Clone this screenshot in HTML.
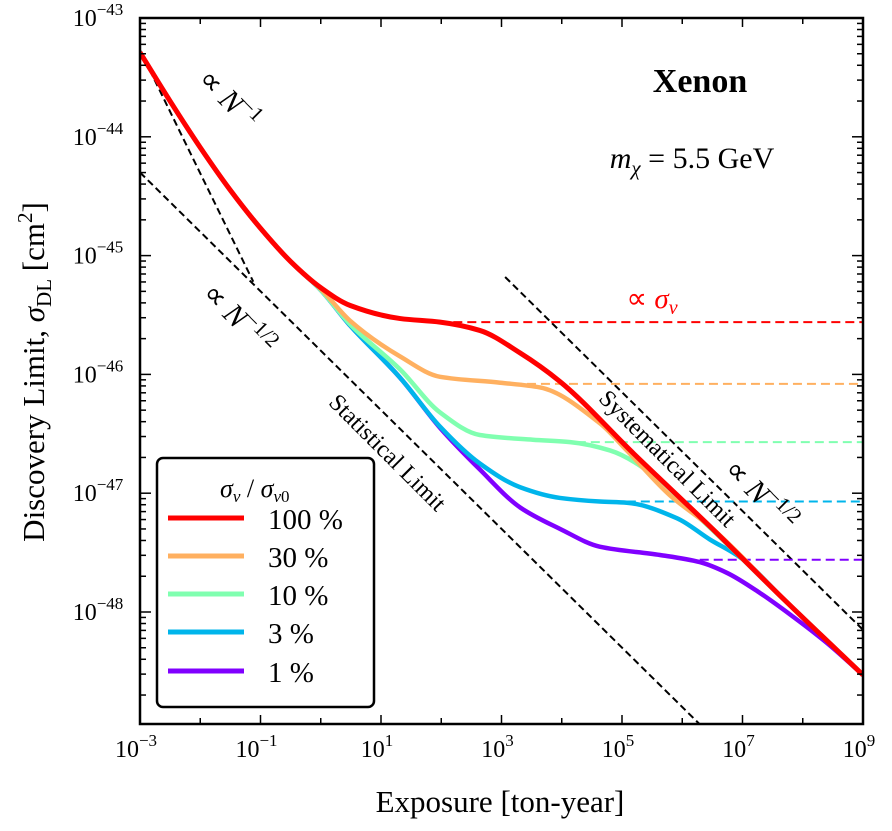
<!DOCTYPE html>
<html><head><meta charset="utf-8">
<style>
html,body{margin:0;padding:0;background:#fff;width:892px;height:831px;overflow:hidden;position:relative;}
svg{display:block;font-family:"Liberation Serif",serif;}
</style></head>
<body>
<svg id="chart" width="892" height="831" viewBox="0 0 892 831" xmlns="http://www.w3.org/2000/svg" style="position:absolute;left:0;top:0"></svg>
<script>
// ---- data (log10 exposure [ton-year], log10 sigma [cm^2]) ----
const xTickExps = [-3,-1,1,3,5,7,9];
const yTickExps = [-43,-44,-45,-46,-47,-48];
const seriesNames = ["100 %","30 %","10 %","3 %","1 %"];
const seriesColors = ["#ff0000","#ffb060","#80ffb0","#00b5eb","#8000ff"];
const redN = [-3,-2.5,-2,-1.5,-1,-0.5,0,0.49,1.32,1.98,2.64,3.31,3.97,5.2,6.46,7.7,9];
const redS = [-43.29,-43.70,-44.09,-44.45,-44.77,-45.05,-45.27,-45.42,-45.53,-45.56,-45.63,-45.82,-46.06,-46.67,-47.28,-47.90,-48.53];
const orangeN = [-3,-2.5,-2,-1.5,-1,-0.5,0,0.49,1.32,1.98,2.98,3.64,4.63,5.08,5.8,6.46,7.7,9];
const orangeS = [-43.29,-43.70,-44.09,-44.45,-44.77,-45.05,-45.28,-45.55,-45.85,-46.02,-46.07,-46.11,-46.41,-46.64,-47.02,-47.28,-47.90,-48.53];
const greenN = [-3,-2.5,-2,-1.5,-1,-0.5,0,0.49,1.32,1.98,2.64,3.52,4.14,4.80,5.63,6.08,6.46,7.7,9];
const greenS = [-43.29,-43.70,-44.09,-44.45,-44.77,-45.05,-45.29,-45.58,-45.96,-46.32,-46.51,-46.55,-46.57,-46.64,-46.89,-47.11,-47.29,-47.90,-48.53];
const blueN = [-3,-2.5,-2,-1.5,-1,-0.5,0,0.49,1.32,1.98,2.64,3.31,3.97,4.63,5.08,5.91,6.46,6.96,7.7,9];
const blueS = [-43.29,-43.70,-44.09,-44.45,-44.77,-45.05,-45.29,-45.59,-46.03,-46.44,-46.75,-46.95,-47.04,-47.07,-47.08,-47.21,-47.39,-47.54,-47.90,-48.53];
const purpleN = [-3,-2.5,-2,-1.5,-1,-0.5,0,0.49,1.32,1.98,2.64,3.31,3.97,4.63,5.63,6.29,6.74,7.29,7.84,8.4,9];
const purpleS = [-43.29,-43.70,-44.09,-44.45,-44.77,-45.05,-45.29,-45.59,-46.03,-46.45,-46.80,-47.12,-47.30,-47.45,-47.52,-47.58,-47.67,-47.84,-48.04,-48.26,-48.53];
const floorStartN = [2.20,3.19,4.25,5.08,6.29];
const floorLevelS = [-45.56,-46.08,-46.57,-47.07,-47.56];
const statLine = {n0:-3, s0:-44.30, slope:-0.5};
const sysLine = {n0:3.06, s0:-45.18, n1:9, s1:-48.15};
const invLine = {n0:-3, s0:-43.27, n1:-1.12, s1:-45.22};

// ---- axes ----
const L=140,R=863,T=18,B=724;
const xMin=-3,xMax=9,yMax=-43,yDec=118.8;
const X = n => L + (n-xMin)/(xMax-xMin)*(R-L);
const Y = s => T + (yMax-s)*yDec;
const yMinS = yMax-(B-T)/yDec;
const NS="http://www.w3.org/2000/svg";
const svg=document.getElementById('chart');
function mk(tag,attrs,parent){const e=document.createElementNS(NS,tag);for(const k in attrs)e.setAttribute(k,attrs[k]);(parent||svg).appendChild(e);return e;}

const defs=mk('defs',{});
const cp=mk('clipPath',{id:'clip'},defs);
mk('rect',{x:L,y:T,width:R-L,height:B-T},cp);
const plot=mk('g',{'clip-path':'url(#clip)'});



// monotone cubic (Fritsch-Carlson) path in pixel space
function smoothPath(ns,ss){
  const x=ns.map(X), y=ss.map(Y), n=x.length;
  const d=[], m=new Array(n);
  for(let i=0;i<n-1;i++) d.push((y[i+1]-y[i])/(x[i+1]-x[i]));
  m[0]=d[0]; m[n-1]=d[n-2];
  for(let i=1;i<n-1;i++){
    if(d[i-1]*d[i]<=0) m[i]=0;
    else { const h0=x[i]-x[i-1], h1=x[i+1]-x[i];
      const w1=2*h1+h0, w2=h1+2*h0;
      m[i]=(w1+w2)/(w1/d[i-1]+w2/d[i]); }
  }
  let p='M'+x[0].toFixed(2)+','+y[0].toFixed(2);
  for(let i=0;i<n-1;i++){
    const h=x[i+1]-x[i];
    p+=' C'+(x[i]+h/3).toFixed(2)+','+(y[i]+m[i]*h/3).toFixed(2)+' '+(x[i+1]-h/3).toFixed(2)+','+(y[i+1]-m[i+1]*h/3).toFixed(2)+' '+x[i+1].toFixed(2)+','+y[i+1].toFixed(2);
  }
  return p;
}

const stat=mk('line',{x1:X(statLine.n0),y1:Y(statLine.s0),x2:X(xMax),y2:Y(statLine.s0+statLine.slope*(xMax-statLine.n0)),stroke:'#000','stroke-width':2,'stroke-dasharray':'7,4'},plot);


const sys=mk('line',{x1:X(sysLine.n0),y1:Y(sysLine.s0),x2:X(sysLine.n1),y2:Y(sysLine.s1),stroke:'#000','stroke-width':2,'stroke-dasharray':'7,4'},plot);


const inv=mk('line',{x1:X(invLine.n0),y1:Y(invLine.s0),x2:X(invLine.n1),y2:Y(invLine.s1),stroke:'#000','stroke-width':2,'stroke-dasharray':'7,4'},plot);



for(let i=0;i<5;i++){
  const f=mk('line',{x1:X(floorStartN[i]),y1:Y(floorLevelS[i]),x2:X(xMax),y2:Y(floorLevelS[i]),stroke:seriesColors[i],'stroke-width':2,'stroke-dasharray':'9,5'},plot);
  
  
}
const curves=[[purpleN,purpleS],[blueN,blueS],[greenN,greenS],[orangeN,orangeS],[redN,redS]];
const curveIdx=[4,3,2,1,0];
for(let k=0;k<5;k++){
  const i=curveIdx[k];
  const c=mk('path',{d:smoothPath(curves[k][0],curves[k][1]),fill:'none',stroke:seriesColors[i],'stroke-width':i===0?5:4.5,'stroke-linejoin':'round'},plot);
  
  
}

const ticks=mk('g',{stroke:'#000','stroke-width':1.5});


for(let n=xMin;n<=xMax;n++){
  const len=(n%2!==0)?9:6;
  mk('line',{x1:X(n),y1:B,x2:X(n),y2:B-len},ticks);
  mk('line',{x1:X(n),y1:T,x2:X(n),y2:T+len},ticks);
}
for(let e=Math.ceil(yMinS)-1;e<=yMax;e++){
  for(let m=1;m<10;m++){
    const s=e+Math.log10(m); if(s<yMinS||s>yMax)continue;
    const len=m===1?11:6;
    mk('line',{x1:L,y1:Y(s),x2:L+len,y2:Y(s)},ticks);
    mk('line',{x1:R,y1:Y(s),x2:R-len,y2:Y(s)},ticks);
  }
}
const frame=mk('rect',{x:L,y:T,width:R-L,height:B-T,fill:'none',stroke:'#000','stroke-width':2.5});



xTickExps.forEach(n=>{
  const t=mk('text',{x:X(n)-4,y:B+33,'text-anchor':'middle','font-size':24});
  
  
  t.innerHTML='10<tspan dy="-11" font-size="17">'+(n<0?'\u2212'+(-n):n)+'</tspan>';
});
yTickExps.forEach(e=>{
  const t=mk('text',{x:98,y:Y(e)+8,'text-anchor':'middle','font-size':24});
  
  
  t.innerHTML='10<tspan dy="-11" font-size="17">\u2212'+(-e)+'</tspan>';
});
</script>

<svg style="position:absolute;left:0;top:0;font-family:'Liberation Serif',serif" width="892" height="831">
  <text x="500" y="812" text-anchor="middle" font-size="31">Exposure [ton-year]</text>
  <text transform="translate(44,372) rotate(-90)" text-anchor="middle" font-size="31">Discovery Limit, <tspan font-style="italic">σ</tspan><tspan font-size="21" dy="7">DL</tspan><tspan dy="-7"> [cm</tspan><tspan font-size="21" dy="-12">2</tspan><tspan dy="12">]</tspan></text>
  <text x="700" y="92" text-anchor="middle" font-size="34" font-weight="bold">Xenon</text>
  <text x="692" y="168" text-anchor="middle" font-size="30"><tspan font-style="italic">m</tspan><tspan font-style="italic" font-size="21" dy="7">χ</tspan><tspan dy="-7"> = 5.5 GeV</tspan></text>
  <text transform="translate(222,106) rotate(45)" text-anchor="middle" font-size="30">∝ <tspan font-style="italic">N</tspan><tspan font-size="21" dy="-12">−1</tspan></text>
  <text transform="translate(232,326) rotate(45)" text-anchor="middle" font-size="30">∝ <tspan font-style="italic">N</tspan><tspan font-size="21" dy="-12">−1/2</tspan></text>
  <text transform="translate(382,458) rotate(45)" text-anchor="middle" font-size="24">Statistical Limit</text>
  <text transform="translate(662,464) rotate(45)" text-anchor="middle" font-size="24">Systematical Limit</text>
  <text transform="translate(754,502) rotate(45)" text-anchor="middle" font-size="30">∝ <tspan font-style="italic">N</tspan><tspan font-size="21" dy="-12">−1/2</tspan></text>
  <text x="652" y="308" text-anchor="middle" font-size="29" fill="#ff0000">∝ <tspan font-style="italic">σ</tspan><tspan font-style="italic" font-size="20" dy="6">ν</tspan></text>
  <g>
    <rect x="157" y="458" width="217" height="249" rx="6" fill="#fff" stroke="#000" stroke-width="2.5"/>
    <text x="220" y="497" font-size="26" font-style="italic">σ<tspan font-size="17" dy="5">ν</tspan><tspan dy="-5" font-style="normal"> / </tspan>σ<tspan font-size="17" dy="5">ν</tspan><tspan font-size="17" font-style="normal">0</tspan></text>
    <g><line x1="168" y1="518" x2="244" y2="518" stroke="#ff0000" stroke-width="5"/><text x="268" y="529" font-size="29">100 %</text></g>
    <g><line x1="168" y1="556" x2="244" y2="556" stroke="#ffb060" stroke-width="5"/><text x="268" y="567" font-size="29">30 %</text></g>
    <g><line x1="168" y1="594" x2="244" y2="594" stroke="#80ffb0" stroke-width="5"/><text x="268" y="605" font-size="29">10 %</text></g>
    <g><line x1="168" y1="632" x2="244" y2="632" stroke="#00b5eb" stroke-width="5"/><text x="268" y="643" font-size="29">3 %</text></g>
    <g><line x1="168" y1="671" x2="244" y2="671" stroke="#8000ff" stroke-width="5"/><text x="268" y="682" font-size="29">1 %</text></g>
  </g>
</svg>
</body></html>
